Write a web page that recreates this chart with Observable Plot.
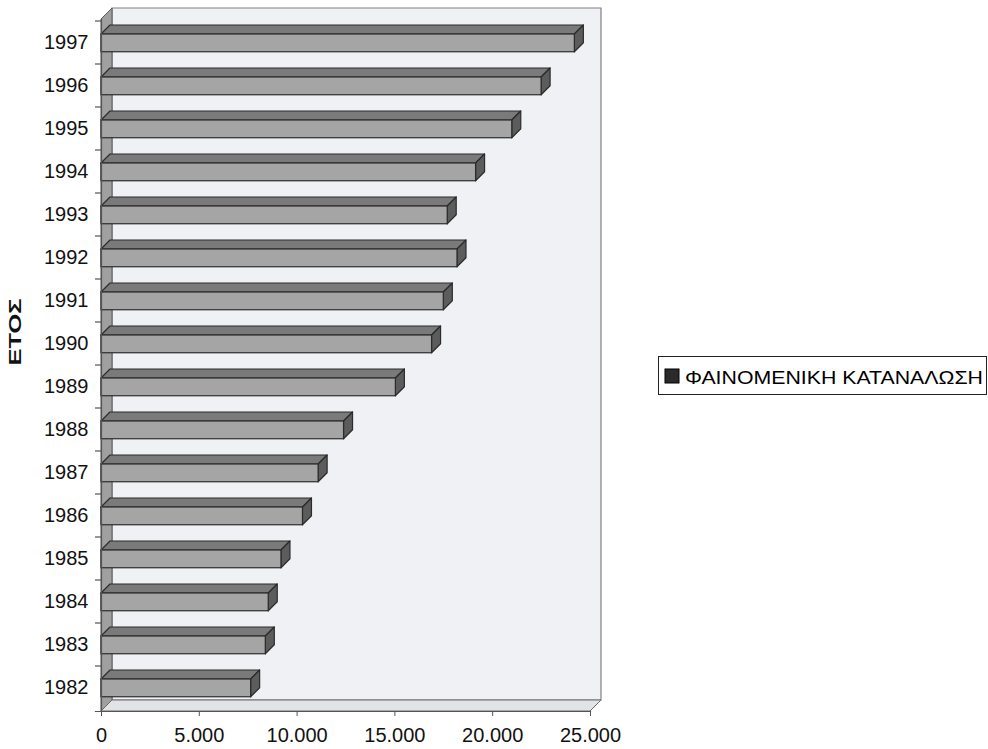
<!DOCTYPE html>
<html>
<head>
<meta charset="utf-8">
<script src="https://cdn.jsdelivr.net/npm/d3@7"></script>
<script src="https://cdn.jsdelivr.net/npm/@observablehq/plot@0.6"></script>
<style>
  body { margin: 0; background: #fff; font-family: "Liberation Sans", Arial, sans-serif; }
  #wrap { position: relative; width: 988px; height: 749px; }
  #legend { position: absolute; left: 658px; top: 356px; width: 329px; height: 39px;
            box-sizing: border-box; border: 1px solid #222; background: #fff; }
  #legend svg { display: block; }
</style>
</head>
<body>
<div id="wrap"></div>
<script>
// Apparent consumption by year
const years = [1982, 1983, 1984, 1985, 1986, 1987, 1988, 1989, 1990, 1991, 1992, 1993, 1994, 1995, 1996, 1997];
const consumption = [7650, 8400, 8550, 9200, 10300, 11100, 12400, 15050, 16900, 17500, 18200, 17700, 19150, 21000, 22500, 24200];
const xTicks = [0, 5000, 10000, 15000, 20000, 25000];
const seriesName = "ΦΑΙΝΟΜΕΝΙΚΗ ΚΑΤΑΝΑΛΩΣΗ";
const axisTitle = "ΕΤΟΣ";

const data = years.map((year, i) => ({year, value: consumption[i]}));
const fmt = d3.formatLocale({decimal: ",", thousands: ".", grouping: [3], currency: ["", "€"]}).format(",d");

const WALL = 11;   // depth of the chart box (px)
const DEPTH = 9;   // depth of each bar (px)
const FACE_TOP = 13, FACE_BOTTOM = 12.25;

// Back wall, side wall, floor and category boundary ticks
function walls(index, {x, y}, values, dims) {
  const g = d3.create("svg:g");
  const x0 = x(0), x1 = x(xTicks[xTicks.length - 1]);
  const top = dims.marginTop, bottom = dims.height - dims.marginBottom;
  const pts = a => a.map(p => p.join(",")).join(" ");
  g.append("polygon")
    .attr("points", pts([[x0 + WALL, top - WALL], [x1 + WALL, top - WALL], [x1 + WALL, bottom - WALL], [x0 + WALL, bottom - WALL]]))
    .attr("fill", "#eff1f5").attr("stroke", "#808080").attr("stroke-width", 1.2);
  g.append("polygon")
    .attr("points", pts([[x0, top], [x0 + WALL, top - WALL], [x0 + WALL, bottom - WALL], [x0, bottom]]))
    .attr("fill", "#a0a0a0").attr("stroke", "#5a5a5a").attr("stroke-width", 1);
  g.append("polygon")
    .attr("points", pts([[x0, bottom], [x0 + WALL, bottom - WALL], [x1 + WALL, bottom - WALL], [x1, bottom]]))
    .attr("fill", "#e2e3e6").attr("stroke", "#6a6a6a").attr("stroke-width", 1);
  for (const yr of years) {
    g.append("line").attr("x1", x0 - 6).attr("x2", x0).attr("y1", y(yr)).attr("y2", y(yr))
      .attr("stroke", "#555").attr("stroke-width", 1.2);
  }
  return g.node();
}

// Top and end faces of each 3D bar
function barFaces(index, {x, y}, values, dims) {
  const g = d3.create("svg:g");
  const pts = a => a.map(p => p.join(",")).join(" ");
  const x0 = x(0);
  data.forEach(d => {
    const yt = y(d.year) + FACE_TOP;
    const h = Math.abs(y(years[1]) - y(years[0])) - FACE_TOP - FACE_BOTTOM;
    const x1 = x(d.value);
    g.append("polygon")
      .attr("points", pts([[x0, yt], [x0 + DEPTH, yt - DEPTH], [x1 + DEPTH, yt - DEPTH], [x1, yt]]))
      .attr("fill", "#7a7a7a").attr("stroke", "#2b2b2b").attr("stroke-width", 1.2).attr("stroke-linejoin", "round");
    g.append("polygon")
      .attr("points", pts([[x1, yt], [x1 + DEPTH, yt - DEPTH], [x1 + DEPTH, yt + h - DEPTH], [x1, yt + h]]))
      .attr("fill", "#5c5c5c").attr("stroke", "#2b2b2b").attr("stroke-width", 1.2).attr("stroke-linejoin", "round");
  });
  return g.node();
}

const chart = Plot.plot({
  width: 988,
  height: 749,
  marginLeft: 101,
  marginRight: 398,
  marginTop: 19,
  marginBottom: 38,
  style: {fontFamily: "Liberation Sans, Arial, sans-serif", fontSize: "20px", color: "#111", background: "transparent"},
  x: {domain: [0, 25000]},
  y: {type: "band", domain: years.slice().reverse(), padding: 0},
  marks: [
    walls,
    barFaces,
    Plot.barX(data, {x: "value", y: "year", fill: "#a5a5a5", stroke: "#2b2b2b", strokeWidth: 1.2,
                     insetTop: FACE_TOP, insetBottom: FACE_BOTTOM}),
    Plot.frame({anchor: "left", stroke: "#555", strokeWidth: 1.2}),
    Plot.frame({anchor: "bottom", stroke: "#555", strokeWidth: 1.2, insetLeft: -6}),
    Plot.axisY({tickSize: 0, tickPadding: 13, fontSize: 20, tickFormat: d => `${d}`, label: null}),
    Plot.axisX({ticks: xTicks, tickFormat: fmt, tickSize: 5, tickPadding: 11, fontSize: 20, label: null, stroke: "#555"}),
    Plot.text([axisTitle], {frameAnchor: "left", dx: -86, rotate: -90, fontSize: 16, fontWeight: "bold"})
  ]
});

d3.select(chart).selectAll("text").filter(function () { return this.textContent === axisTitle; })
  .attr("textLength", 67).attr("lengthAdjust", "spacingAndGlyphs");

document.getElementById("wrap").appendChild(chart);

// Legend box to the right of the chart
const legend = d3.select("#wrap").append("div").attr("id", "legend");
const lsvg = legend.append("svg").attr("width", 327).attr("height", 37);
lsvg.append("rect").attr("x", 6).attr("y", 12).attr("width", 14).attr("height", 14)
  .attr("fill", "#2a2a2a").attr("stroke", "#000");
lsvg.append("text").attr("x", 26).attr("y", 26.5).attr("font-size", 19)
  .attr("font-family", "Liberation Sans, Arial, sans-serif").attr("fill", "#000")
  .attr("textLength", 298).attr("lengthAdjust", "spacingAndGlyphs")
  .text(seriesName);
</script>
</body>
</html>
